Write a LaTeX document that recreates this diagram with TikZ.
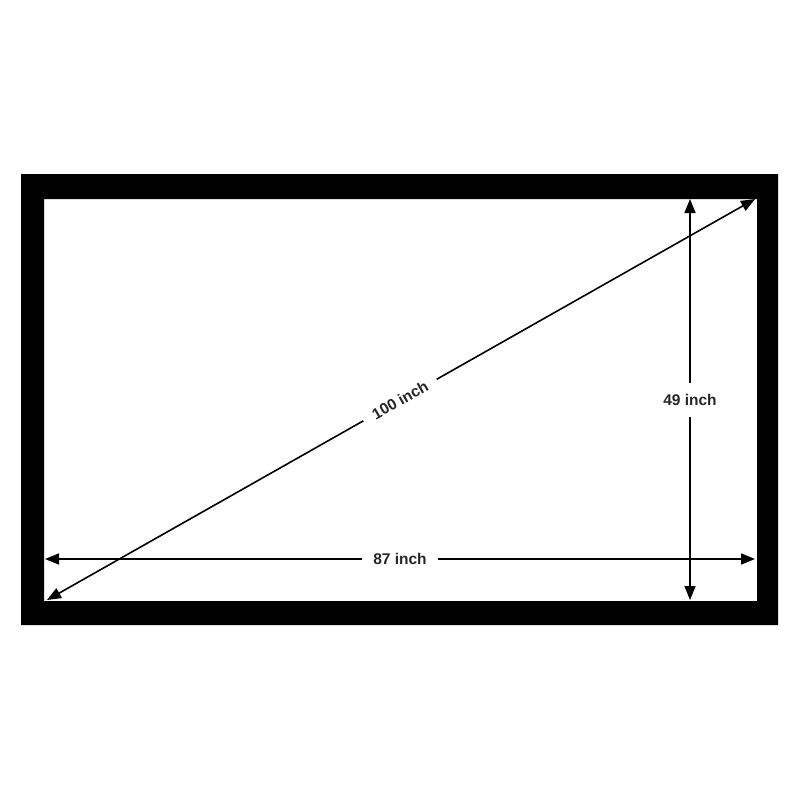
\documentclass[tikz,border=0pt]{standalone}
\usepackage{fontspec}
\setmainfont{Liberation Sans}
\usetikzlibrary{arrows.meta}
\tikzset{
	dim/.style={line width=1.6pt, {Triangle[length=14pt,width=11pt]}-{Triangle[length=14pt,width=11pt]}},
	lbl/.style={fill=white, inner sep=11pt, text=black!85, font=\fontsize{15.5}{19}\selectfont\bfseries}
}
\begin{document}
\begin{tikzpicture}[x=1pt,y=-1pt]
	\useasboundingbox (0,0) rectangle (800,800);
	\fill[black, even odd rule] (21,174) rectangle (778,625) (44,199) rectangle (757,601);

	\coordinate (bl) at (47,600);
	\coordinate (tr) at (755,199);
	\coordinate (l) at (45,559);
	\coordinate (r) at (755,559);
	\coordinate (t) at (690,199);
	\coordinate (b) at (690,600);

	\draw[dim] (bl) -- (tr);
	\draw[dim] (l) -- (r);
	\draw[dim] (t) -- (b);

	\node[lbl, rotate=29.6] (diag) at (400,400) {100 inch};
	\node[lbl] (wide) at (400,559) {87 inch};
	\node[lbl] (high) at (690,400) {49 inch};
\end{tikzpicture}
\end{document}
